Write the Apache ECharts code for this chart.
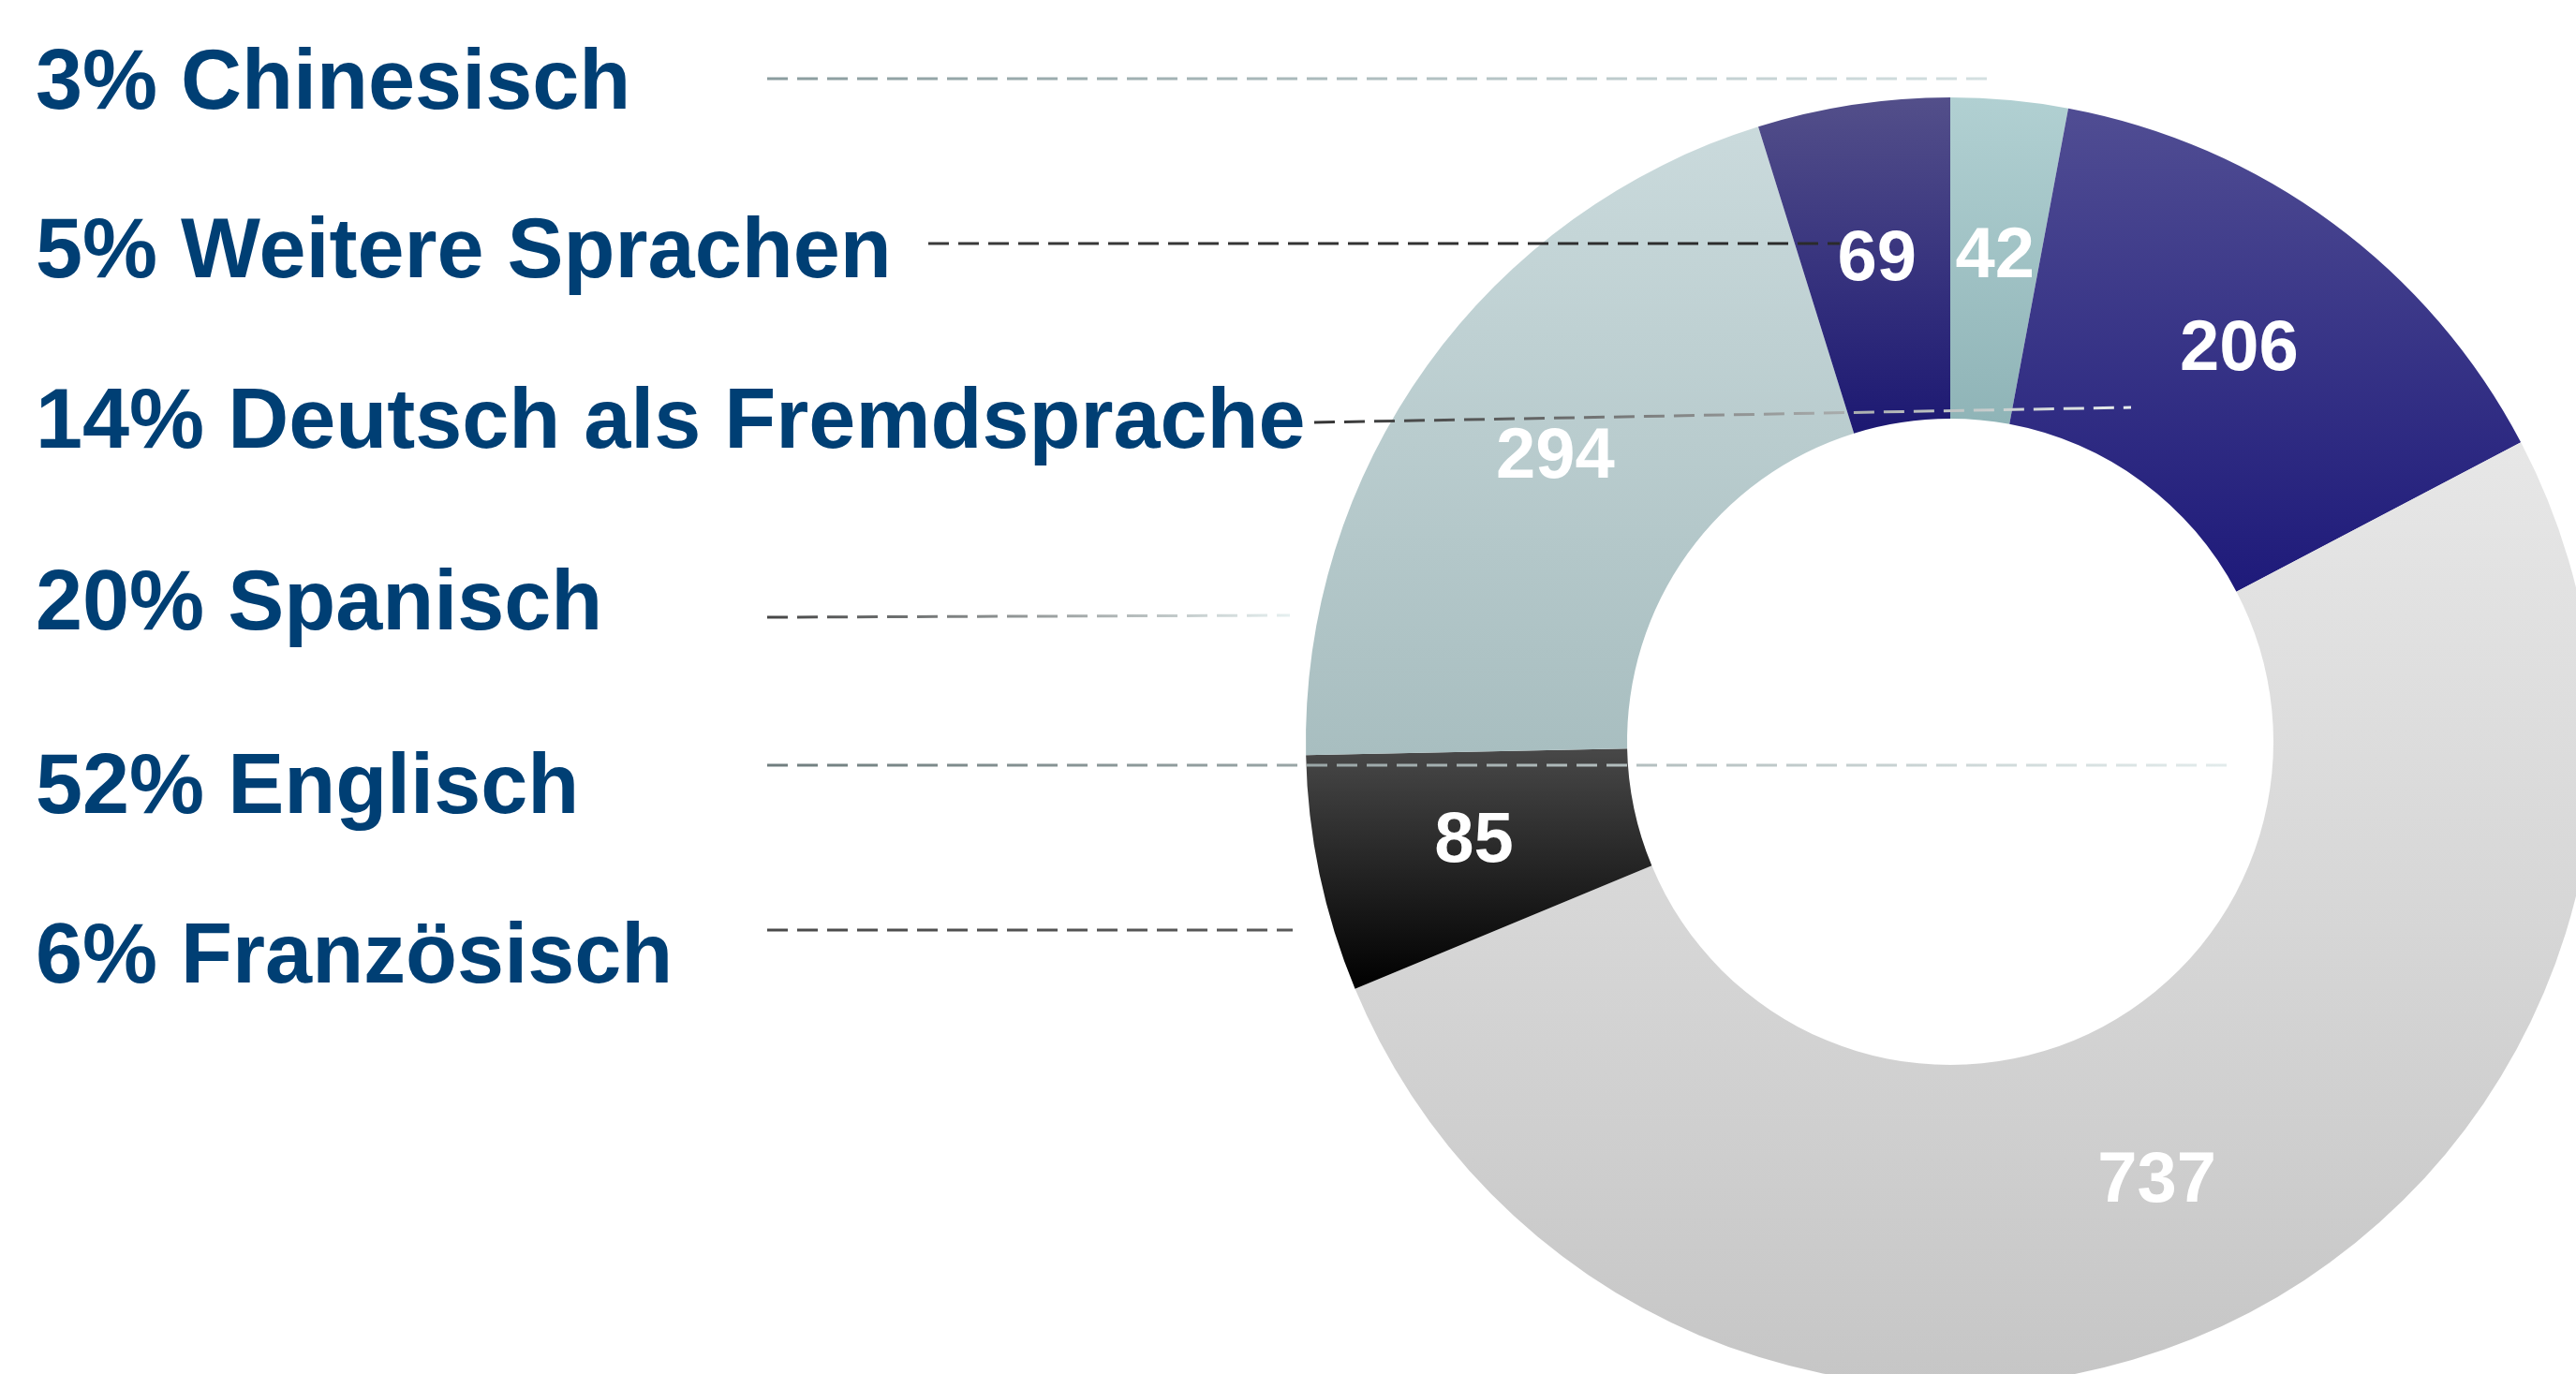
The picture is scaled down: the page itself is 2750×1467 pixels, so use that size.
<!DOCTYPE html>
<html>
<head>
<meta charset="utf-8">
<script src="https://cdn.jsdelivr.net/npm/echarts@6/dist/echarts.min.js"></script>
<style>
  html, body { margin: 0; padding: 0; background: #fff; }
  #chart { width: 2750px; height: 1467px; }
</style>
</head>
<body>
<div id="chart"></div>
<script>
// data
const languages = ['Chinesisch', 'Deutsch als Fremdsprache', 'Englisch', 'Französisch', 'Spanisch', 'Weitere Sprachen']
const counts = [42, 206, 737, 85, 294, 69]
const shares = [3, 14, 52, 6, 20, 5] // percent as printed in the legend
const legendOrder = ['Chinesisch', 'Weitere Sprachen', 'Deutsch als Fremdsprache', 'Spanisch', 'Englisch', 'Französisch']

// look
const fills = {
  'Chinesisch': ['#b1d0d2', '#8fb4b7'],
  'Deutsch als Fremdsprache': ['#504d93', '#1e1a7a'],
  'Englisch': ['#e7e7e7', '#c6c6c6'],
  'Französisch': ['#484848', '#000000'],
  'Spanisch': ['#cadadc', '#a8bec0'],
  'Weitere Sprachen': ['#534f8a', '#1c1872'],
}
const legendY = [85, 265, 447, 641, 837, 1018]
// dashed leader lines: x1, y1, x2, y2, start colour, end colour
const leaders = [
  [819, 84, 2122, 84, '#8a9c9e', '#d4e0e1'],
  [991, 260, 1964, 260, '#3a3a3a', '#2a2a2a'],
  [1403, 451, 2275, 435, '#333333', '#e8eeee'],
  [819, 659, 1377, 657, '#444444', '#e6f0f0'],
  [819, 817, 2385, 817, '#6f7d7e', '#e3ecec'],
  [819, 993, 1380, 993, '#4a4a4a', '#5a5a5a'],
]

const chart = echarts.init(document.getElementById('chart'))

const grad = (c) => new echarts.graphic.LinearGradient(0, 0, 0, 1, [
  { offset: 0, color: c[0] },
  { offset: 1, color: c[1] },
])

const pieData = languages.map((name, i) => ({
  name,
  value: counts[i],
  itemStyle: { color: grad(fills[name]) },
}))

const legendTexts = legendOrder.map((name, i) => ({
  type: 'text',
  left: 38,
  top: legendY[i] - 39,
  z: 10,
  style: {
    text: shares[languages.indexOf(name)] + '% ' + name,
    font: 'bold 90px "Liberation Sans", Arial, sans-serif',
    fill: '#003f74',
  },
}))

const leaderLines = leaders.map(l => ({
  type: 'line',
  z: 20,
  shape: { x1: l[0], y1: l[1], x2: l[2], y2: l[3] },
  style: {
    stroke: new echarts.graphic.LinearGradient(0, 0, 1, 0, [
      { offset: 0, color: l[4] },
      { offset: 1, color: l[5] },
    ]),
    lineWidth: 3,
    lineDash: [22, 10],
  },
}))

const option = {
  backgroundColor: '#ffffff',
  animation: false,
  series: [
    {
      type: 'pie',
      center: [2082, 792],
      radius: [345, 688],
      startAngle: 90,
      clockwise: true,
      avoidLabelOverlap: false,
      label: {
        show: true,
        position: 'inside',
        formatter: '{c}',
        color: '#ffffff',
        fontSize: 76,
        fontWeight: 'bold',
        fontFamily: 'Liberation Sans, Arial, sans-serif',
      },
      labelLine: { show: false },
      emphasis: { disabled: true },
      data: pieData,
    },
  ],
  graphic: [...legendTexts, ...leaderLines],
}

chart.setOption(option)
</script>
</body>
</html>
